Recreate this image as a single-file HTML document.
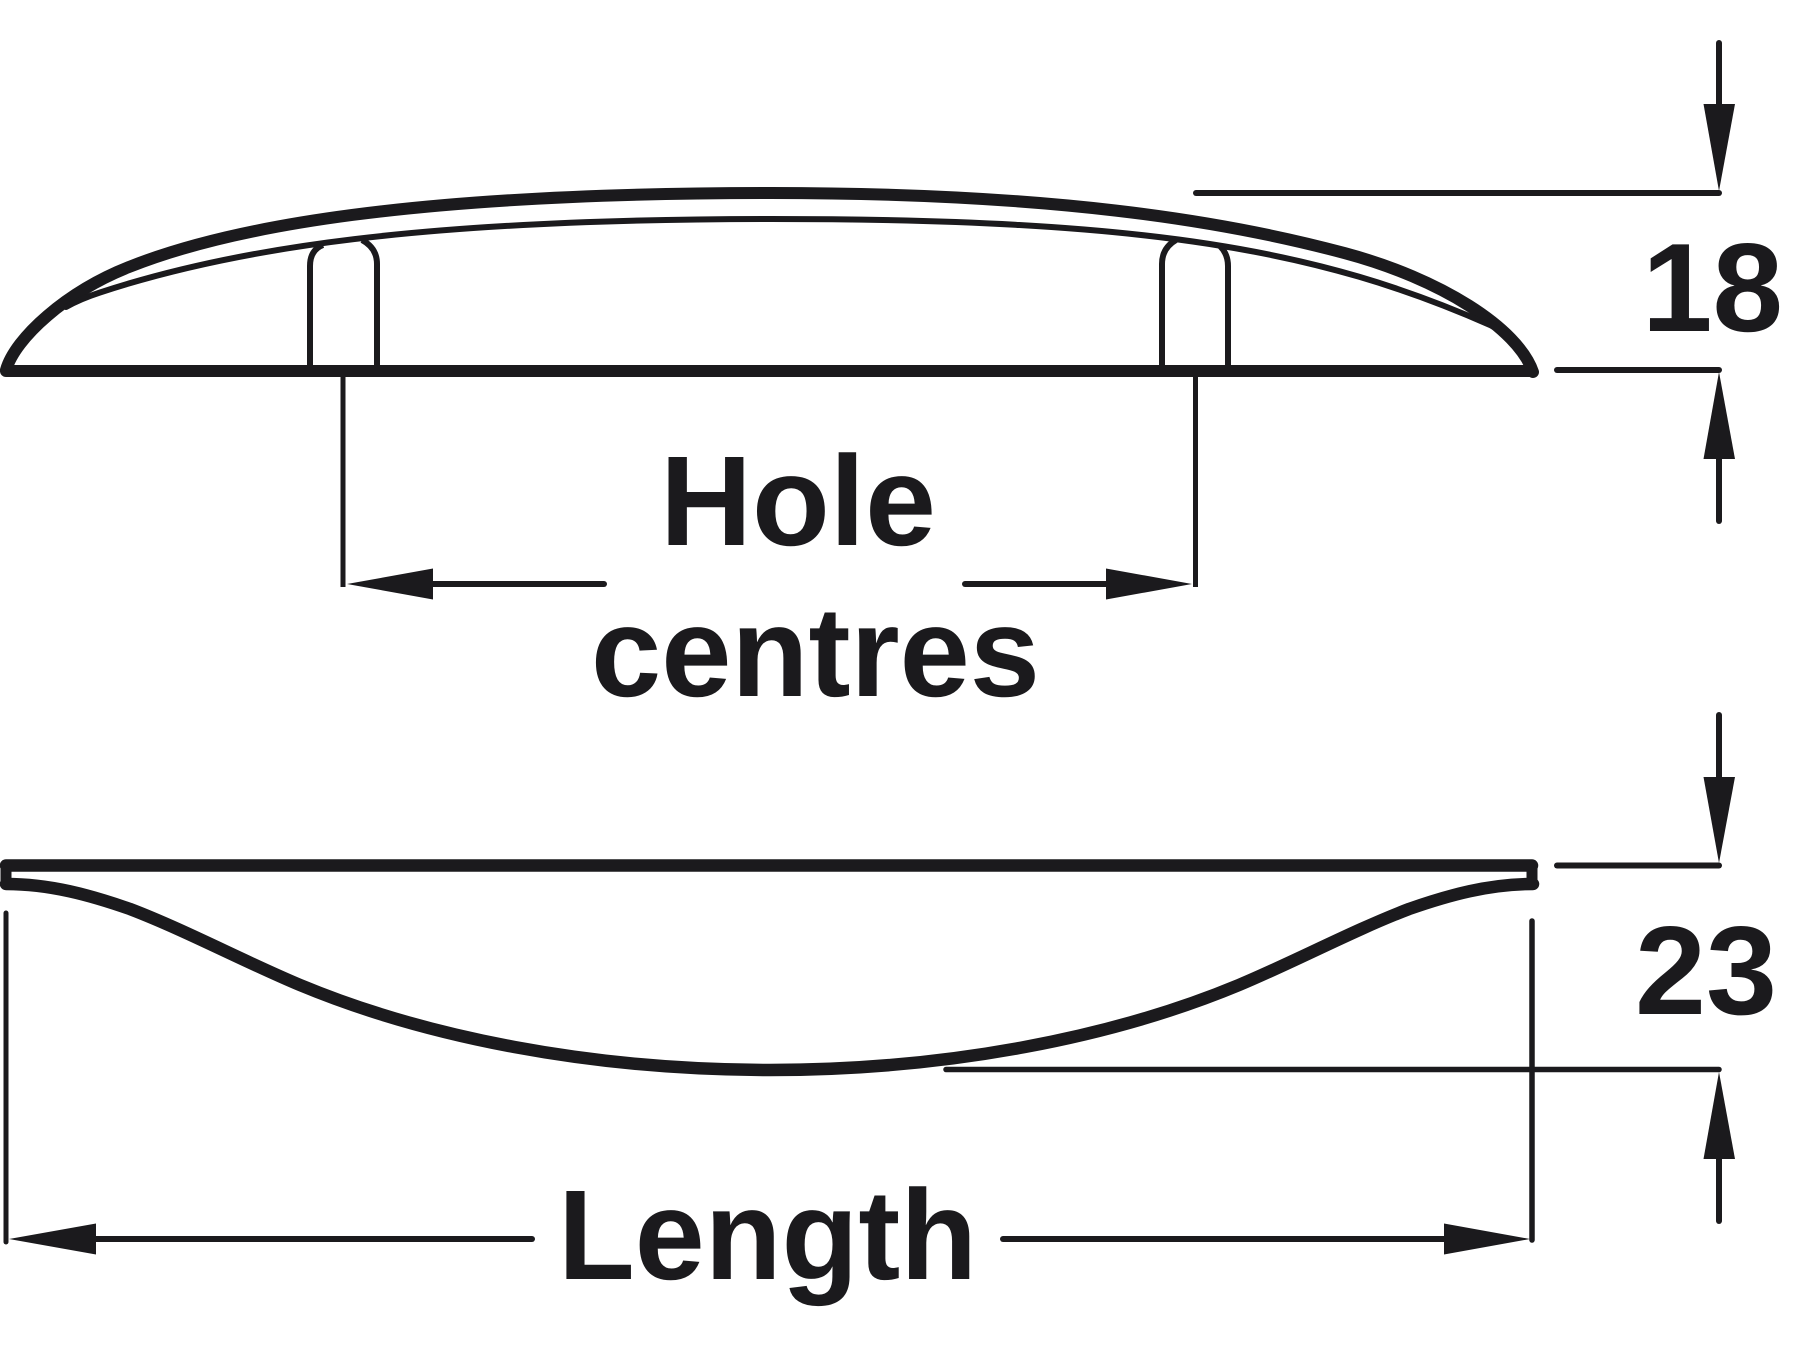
<!DOCTYPE html>
<html>
<head>
<meta charset="utf-8">
<style>
html,body{margin:0;padding:0;background:#fff;width:1800px;height:1350px;overflow:hidden}
svg{display:block}
text{font-family:"Liberation Sans",sans-serif;font-weight:700;fill:#1b1a1d;text-rendering:geometricPrecision}
</style>
</head>
<body>
<svg width="1800" height="1350" viewBox="0 0 1800 1350" xmlns="http://www.w3.org/2000/svg">
<rect width="1800" height="1350" fill="#fff"/>
<g fill="none" stroke="#1b1a1d" stroke-linecap="round" stroke-linejoin="round">
  <!-- top view -->
  <path d="M6,370 C15,338 66,292 128.8,267.1 C229.2,226.9 410,193 771,193 C1050,193 1221,219.9 1345,253.2 C1440,278.6 1518,328 1533,372" stroke-width="12"/>
  <path d="M66,307 Q80,299 100,292.5 C235,248 420,219 771,219 C1150,219 1320,250 1490,325 Q1500,330 1508,337" stroke-width="6"/>
  <path d="M6,371 H1532" stroke-width="12"/>
  <g stroke-linecap="butt">
    <path d="M310,366 V266 Q310,250 323,245" stroke-width="6"/>
    <path d="M377,366 V264 Q377,248 362,240" stroke-width="6"/>
    <path d="M1162,366 V264 Q1162,248 1176,240" stroke-width="6"/>
    <path d="M1228,366 V266 Q1228,254 1220,246" stroke-width="6"/>
  </g>
  <!-- hole centre dimension -->
  <path d="M343,376 V587" stroke-width="5" stroke-linecap="butt"/>
  <path d="M1195.5,376 V587" stroke-width="5" stroke-linecap="butt"/>
  <path d="M430,584 H604" stroke-width="6"/>
  <path d="M965,584 H1108" stroke-width="6"/>
  <!-- height 18 -->
  <path d="M1196,193 H1719" stroke-width="6"/>
  <path d="M1557,370 H1719" stroke-width="6"/>
  <path d="M1719,43 V106" stroke-width="6"/>
  <path d="M1719,457 V521" stroke-width="6"/>
  <!-- bottom view -->
  <path d="M6,865.5 H1532" stroke-width="12.5"/>
  <path d="M6,865.5 V884" stroke-width="11"/>
  <path d="M1532,865.5 V884" stroke-width="11"/>
  <path d="M6,884 C50,884 90,895 130,909 C185,930 245,962 300,985 C425,1037 590,1070 770,1070 C949,1070 1114,1037 1239,985 C1294,962 1354,930 1409,909 C1449,895 1489,884 1533,884" stroke-width="12.5"/>
  <!-- length dimension -->
  <path d="M6,913 V1242" stroke-width="5"/>
  <path d="M1532,921 V1240" stroke-width="5.5"/>
  <path d="M94,1239 H532" stroke-width="6"/>
  <path d="M1003,1239 H1446" stroke-width="6"/>
  <!-- height 23 -->
  <path d="M1557,865.5 H1719" stroke-width="6"/>
  <path d="M946,1069.5 H1719" stroke-width="5.5"/>
  <path d="M1719,715 V779" stroke-width="6"/>
  <path d="M1719,1157 V1221" stroke-width="6"/>
</g>
<g fill="#1b1a1d">
  <!-- arrowheads -->
  <polygon points="347,584 433,568.5 433,599.5"/>
  <polygon points="1192,584 1106,568.5 1106,599.5"/>
  <polygon points="1719,191 1703.5,104 1735,104"/>
  <polygon points="1719,372 1703.5,459 1735,459"/>
  <polygon points="1719,863 1703.5,777 1735,777"/>
  <polygon points="1719,1072 1703.5,1159 1735,1159"/>
  <polygon points="9,1239 96,1223.5 96,1254.5"/>
  <polygon points="1530,1239 1444,1223.5 1444,1254.5"/>
</g>
<text x="660" y="545" font-size="128" textLength="276" lengthAdjust="spacingAndGlyphs">Hole</text>
<text x="591" y="696" font-size="128" textLength="449" lengthAdjust="spacingAndGlyphs">centres</text>
<text x="558" y="1279" font-size="128" textLength="419" lengthAdjust="spacingAndGlyphs">Length</text>
<text x="1642" y="331" font-size="126" textLength="141" lengthAdjust="spacingAndGlyphs">18</text>
<text x="1635" y="1014" font-size="126" textLength="142" lengthAdjust="spacingAndGlyphs">23</text>
</svg>
</body>
</html>
